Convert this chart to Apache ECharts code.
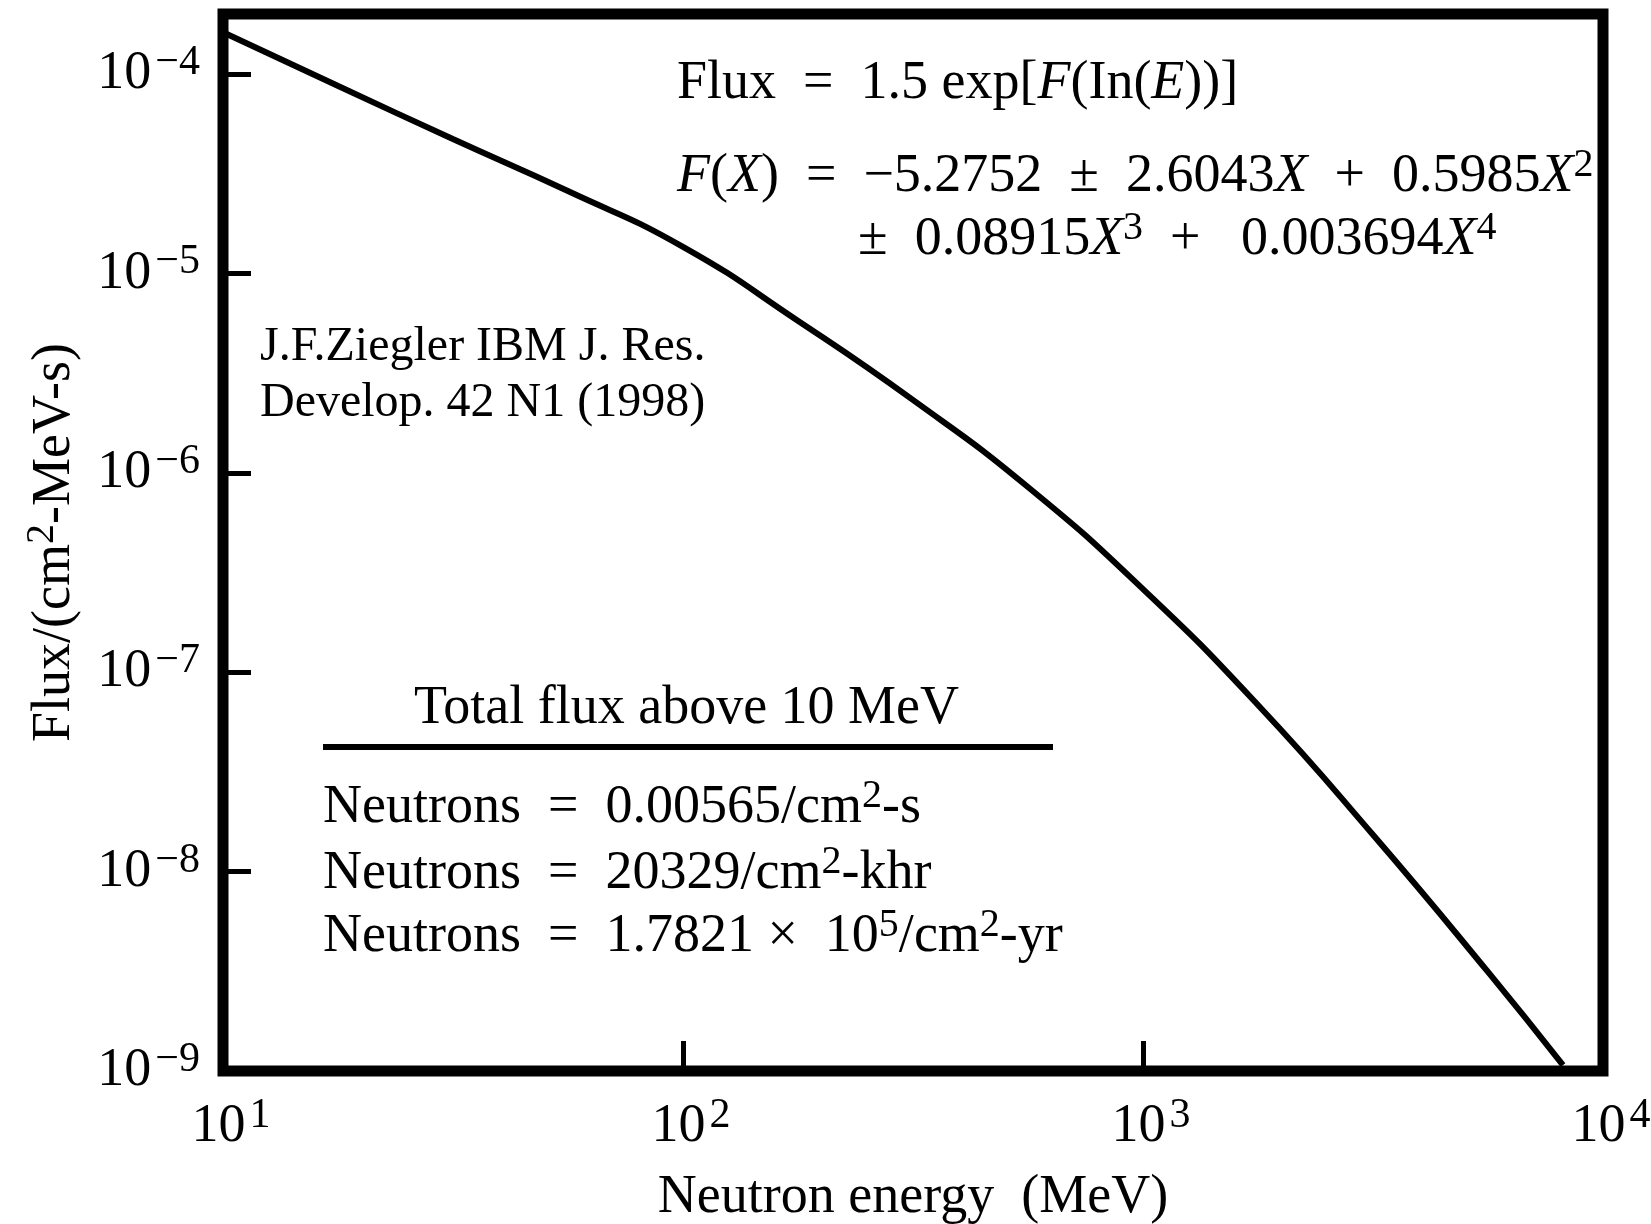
<!DOCTYPE html>
<html>
<head>
<meta charset="utf-8">
<title>Neutron flux</title>
<script src="https://cdn.jsdelivr.net/npm/echarts@6/dist/echarts.min.js"></script>
<style>
  html, body { margin: 0; padding: 0; background: #fff; }
  #chart { width: 1651px; height: 1224px; }
</style>
</head>
<body>
<div id="chart"></div>
<script>
// points (MeV, flux per cm2-MeV-s)
const energy = [10, 17.8, 31.6, 56.2, 100, 178, 316, 562, 1000, 1778, 3162, 5623, 8185]
const flux = [1.62e-4, 8.71e-5, 4.72e-5, 2.59e-5, 1.36e-5, 5.77e-6, 2.32e-6, 8.49e-7, 2.61e-7, 6.85e-8, 1.53e-8, 3.14e-9, 1.07e-9]

// decade exponents that get a label
const xExponents = [1, 2, 3, 4]
const yExponents = [-9, -8, -7, -6, -5, -4]

const serif = 'Liberation Serif'
const rich = {
  i: { fontFamily: serif, fontSize: 54, fontStyle: 'italic', lineHeight: 64 },
  // superscript: top aligned, bottom padding makes the line taller so it sits higher
  s: { fontFamily: serif, fontSize: 40, verticalAlign: 'top', padding: [0, 0, 36, 0] },
  t: { fontFamily: serif, fontSize: 42, lineHeight: 32, verticalAlign: 'top', padding: [0, 0, 0, 4] },
  p: { width: 16, lineHeight: 64 }
}

const expOf = (v, list) => {
  const e = Math.round(Math.log10(v))
  if (Math.abs(Math.log10(v) - e) > 1e-6 || list.indexOf(e) < 0) return null
  return e
}
const minus = (e) => (e < 0 ? '\u2212' + Math.abs(e) : String(e))

const chart = echarts.init(document.getElementById('chart'))

const textEl = (x, y, text, size) => ({
  type: 'text',
  x: x,
  y: y,
  style: {
    text: text,
    fontFamily: serif,
    fontSize: size || 54,
    lineHeight: 64,
    fill: '#000',
    align: 'left',
    verticalAlign: 'middle',
    rich: rich
  }
})

chart.setOption({
  animation: false,
  backgroundColor: '#fff',
  grid: {
    left: 223,
    right: 48,
    top: 14,
    bottom: 153,
    show: true,
    borderColor: '#000',
    borderWidth: 11,
    containLabel: false,
    outerBoundsMode: 'none'
  },
  xAxis: {
    type: 'log',
    logBase: 10,
    min: 10,
    max: 10000,
    axisLine: { show: false },
    splitLine: { show: false },
    minorTick: { show: false },
    axisTick: { show: true, inside: true, length: 30, lineStyle: { color: '#000', width: 5 } },
    axisLabel: {
      margin: 24,
      color: '#000',
      fontFamily: serif,
      fontSize: 54,
      lineHeight: 64,
      rich: rich,
      formatter: (v) => {
        const e = expOf(v, xExponents)
        return e === null ? '' : '{p|}10{t|' + minus(e) + '}'
      }
    },
    name: 'Neutron energy  (MeV)',
    nameLocation: 'middle',
    nameGap: 99,
    nameTextStyle: { color: '#000', fontFamily: serif, fontSize: 54, lineHeight: 56 }
  },
  yAxis: {
    type: 'log',
    logBase: 10,
    min: 1e-9,
    max: 2e-4,
    axisLine: { show: false },
    splitLine: { show: false },
    minorTick: { show: false },
    axisTick: { show: true, inside: true, length: 28, lineStyle: { color: '#000', width: 5 } },
    axisLabel: {
      margin: 23,
      color: '#000',
      fontFamily: serif,
      fontSize: 54,
      lineHeight: 64,
      rich: rich,
      formatter: (v) => {
        const e = expOf(v, yExponents)
        return e === null ? '' : '10{t|' + minus(e) + '}'
      }
    },
    name: 'Flux/(cm{s|2}-MeV-s)',
    nameLocation: 'middle',
    nameGap: 132,
    nameTextStyle: { color: '#000', fontFamily: serif, fontSize: 54, lineHeight: 64, rich: rich }
  },
  graphic: [
    textEl(677, 84, 'Flux  =  1.5 exp[{i|F}(In({i|E}))]'),
    textEl(677, 177, '{i|F}({i|X})  =  \u22125.2752  \u00b1  2.6043{i|X}  +  0.5985{i|X}{s|2}'),
    textEl(858, 240, '\u00b1  0.08915{i|X}{s|3}  +   0.003694{i|X}{s|4}'),
    textEl(260, 347, 'J.F.Ziegler IBM J. Res.', 48),
    textEl(260, 403, 'Develop. 42 N1 (1998)', 48),
    textEl(414, 709, 'Total flux above 10 MeV'),
    {
      type: 'line',
      shape: { x1: 323, y1: 747, x2: 1053, y2: 747 },
      style: { stroke: '#000', lineWidth: 6 }
    },
    textEl(323, 808, 'Neutrons  =  0.00565/cm{s|2}-s'),
    textEl(323, 874, 'Neutrons  =  20329/cm{s|2}-khr'),
    textEl(323, 937, 'Neutrons  =  1.7821 \u00d7  10{s|5}/cm{s|2}-yr')
  ],
  series: [
    {
      type: 'line',
      data: energy.map((e, i) => [e, flux[i]]),
      smooth: 0.5,
      symbol: 'none',
      clip: true,
      lineStyle: { color: '#000', width: 6 }
    }
  ]
})
</script>
</body>
</html>
